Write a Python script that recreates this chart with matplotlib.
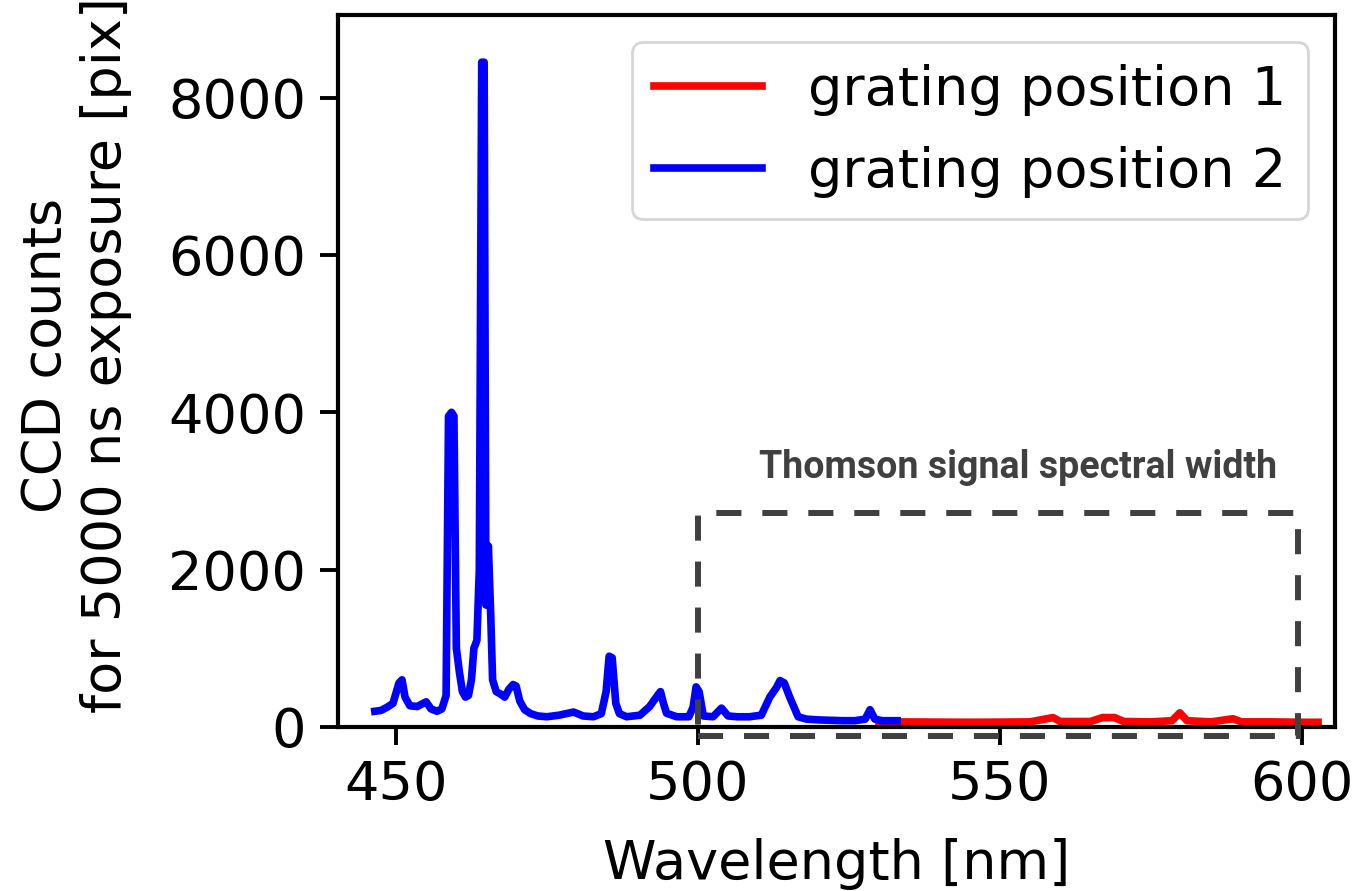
import matplotlib
matplotlib.use("Agg")
import matplotlib.pyplot as plt
from matplotlib.patches import Rectangle

# grating position 2 (blue)
wl_pos2 = [446.5, 447.5, 448.5, 449.5, 450.5, 451.0, 451.5, 452.3, 453.5, 454.5,
           455.0, 455.8, 456.8, 457.6, 458.3, 458.7, 459.2, 459.6, 460.0, 460.5,
           461.0, 461.5, 462.0, 462.5, 462.9, 463.4, 463.8, 464.2, 464.6, 464.9,
           465.3, 465.7, 466.0, 466.6, 467.3, 468.0, 468.7, 469.4, 469.9, 470.5,
           471.3, 472.3, 473.5, 475.0, 477.0, 479.4, 481.0, 482.7, 484.0, 484.8,
           485.3, 485.8, 486.4, 487.0, 488.2, 490.4, 492.0, 493.3, 493.8, 494.3,
           494.8, 496.5, 498.5, 499.2, 499.7, 500.2, 500.9, 502.5, 503.9, 505.0,
           506.5, 508.5, 510.5, 511.9, 513.0, 513.6, 514.3, 515.2, 516.6, 518.0,
           520.0, 522.0, 524.0, 526.0, 527.7, 528.5, 529.3, 530.5, 533.0]
counts_pos2 = [200, 210, 250, 300, 560, 600, 380, 270, 260, 300,
               320, 230, 200, 230, 400, 3950, 4000, 3950, 1000, 700,
               450, 380, 400, 600, 1000, 1100, 2000, 8450, 8450, 1550,
               2300, 1400, 600, 450, 420, 380, 480, 540, 520, 330,
               220, 170, 140, 130, 150, 190, 140, 130, 170, 450,
               900, 880, 300, 170, 130, 150, 260, 400, 450, 300,
               175, 130, 130, 250, 510, 450, 140, 130, 240, 140,
               130, 130, 150, 380, 500, 590, 560, 380, 130, 100,
               90, 85, 80, 80, 100, 220, 100, 80, 80]

# grating position 1 (red)
wl_pos1 = [530.0, 533.0, 540.0, 545.0, 550.0, 555.0, 558.8,
           560.0, 565.0, 567.0, 569.0, 570.5, 575.0, 578.5, 579.8, 581.0, 585.0,
           588.6, 590.0, 595.0, 600.0, 602.7]
counts_pos1 = [65, 65, 62, 60, 62, 65, 120,
               70, 70, 120, 120, 70, 65, 80, 180, 80, 65,
               105, 65, 65, 60, 60]

x_ticks = [450, 500, 550, 600]
y_ticks = [0, 2000, 4000, 6000, 8000]

fs = 39
fig = plt.figure(figsize=(13.63, 8.91), dpi=100)
ax = fig.add_axes([338 / 1363, 1 - 727 / 891, 997 / 1363, 712 / 891])

ax.plot(wl_pos1, counts_pos1, color="red", lw=5.5, label="grating position 1")
ax.plot(wl_pos2, counts_pos2, color="blue", lw=5.5, label="grating position 2")

ax.set_xlim(440.4, 605.5)
ax.set_ylim(0, 9050)
ax.set_xticks(x_ticks)
ax.set_yticks(y_ticks)
ax.tick_params(labelsize=fs, length=13, width=2.8, pad=10)
for s in ax.spines.values():
    s.set_linewidth(3)

ax.set_xlabel("Wavelength [nm]", fontsize=fs)
ax.set_ylabel("CCD counts\nfor 5000 ns exposure [pix]", fontsize=fs)
ax.xaxis.set_label_coords(0.5, -0.156)
ax.yaxis.set_label_coords(-0.2066, 0.522)

# dashed box marking the Thomson signal width
box = Rectangle((500, -115), 99.3, 2830, fill=False, edgecolor="#404040",
                lw=4.3, linestyle=(0, (4.2, 3.5)), clip_on=False, zorder=5)
ax.add_patch(box)
ax.text(553, 3300, "Thomson signal spectral width", family=["Roboto", "DejaVu Sans"],
        fontweight="bold", fontsize=27, color="#404040", ha="center", va="center")

leg = ax.legend(loc="upper right", fontsize=fs, handlelength=2.0,
                handletextpad=0.85, labelspacing=0.55)
leg.get_frame().set_linewidth(2)

fig.savefig("out.png", dpi=100)
